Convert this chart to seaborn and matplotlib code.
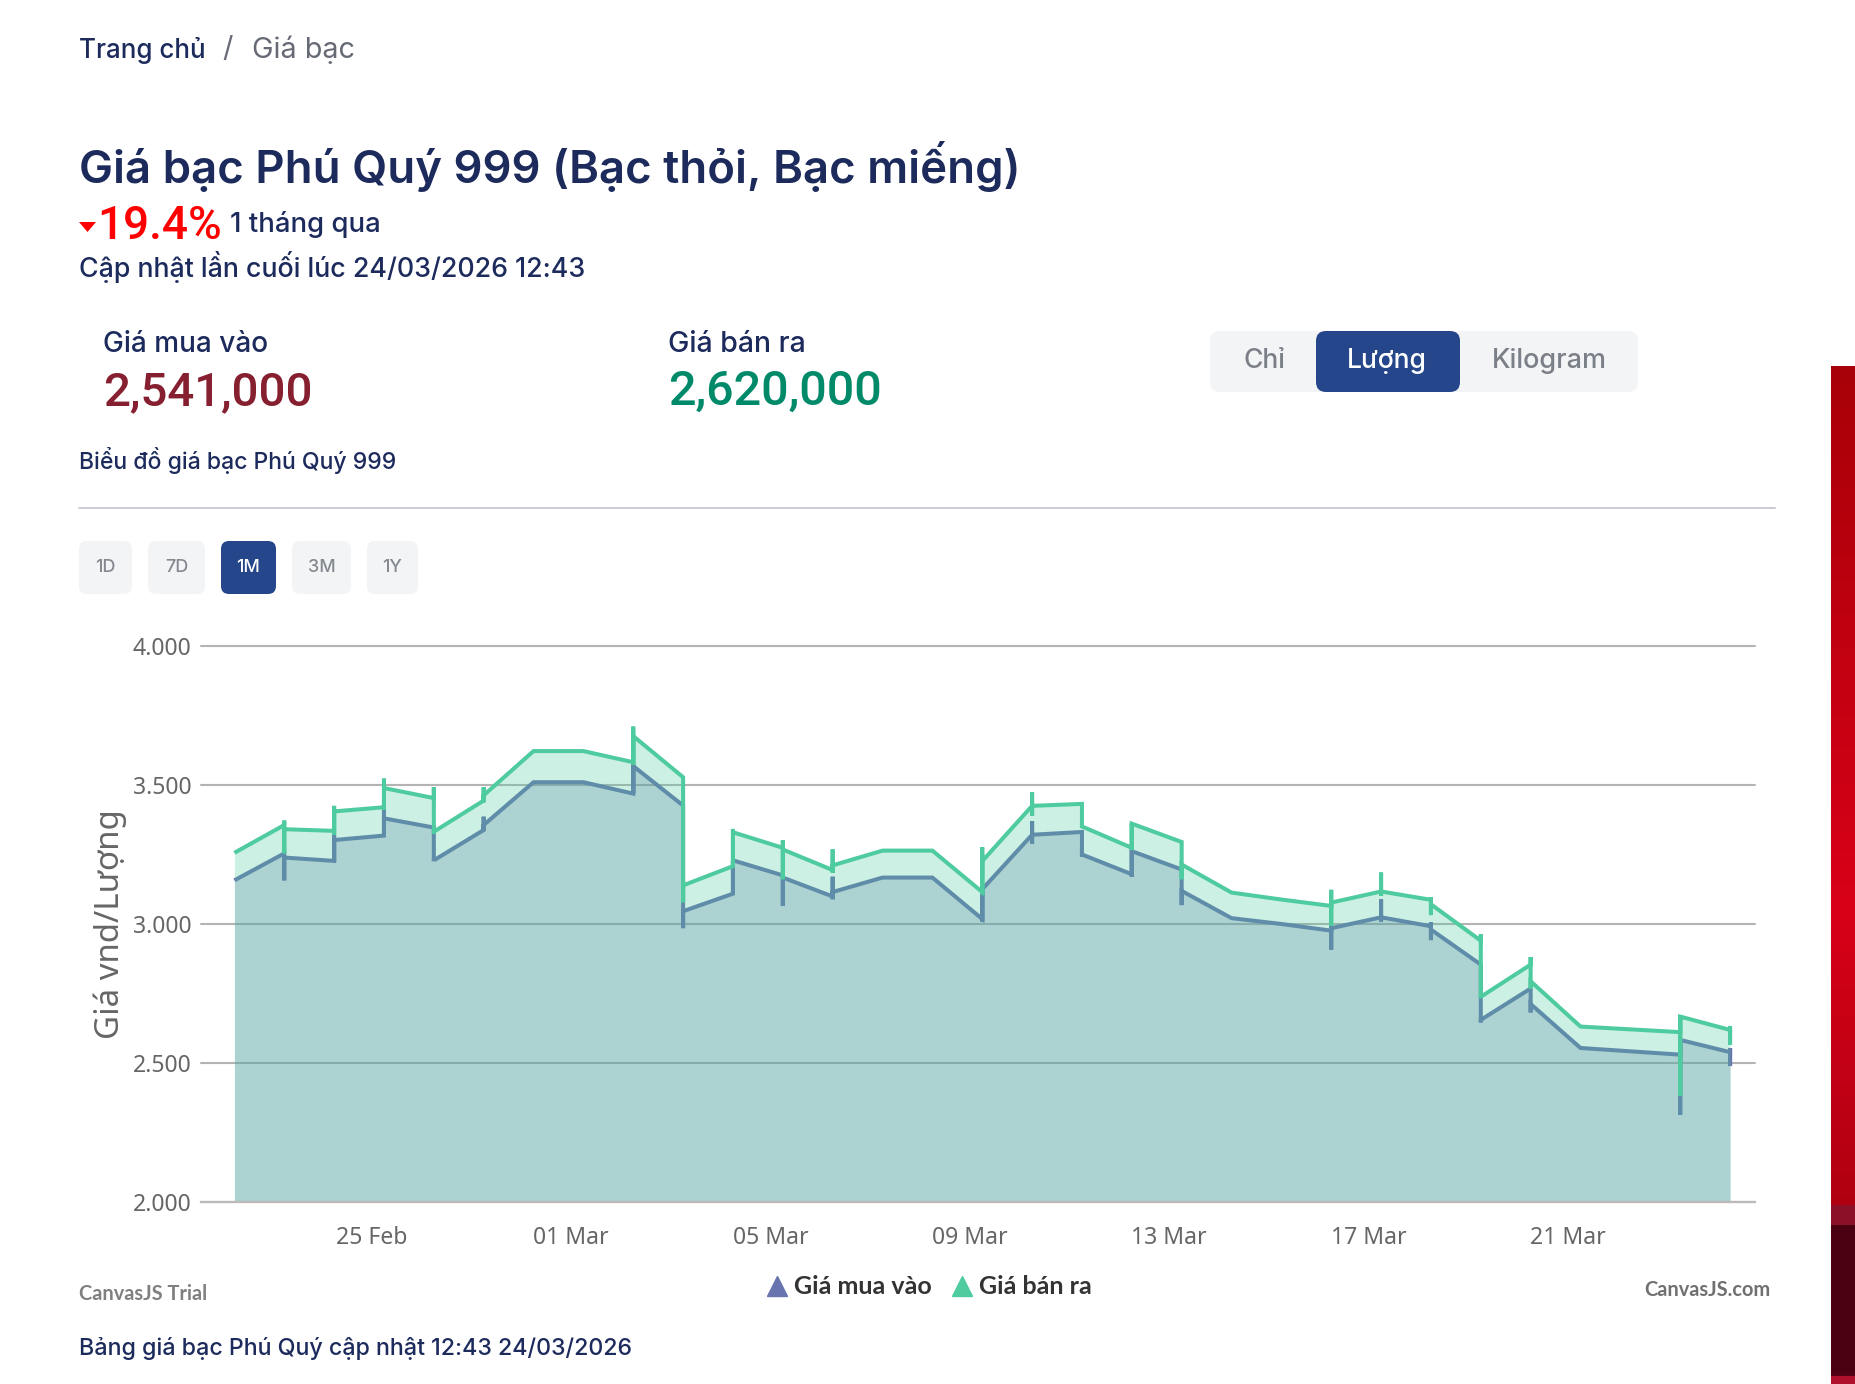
import numpy as np
import pandas as pd
import matplotlib
matplotlib.use("Agg")
import matplotlib.pyplot as plt
import matplotlib.dates as mdates
from matplotlib.colors import LinearSegmentedColormap
from matplotlib.lines import Line2D
from matplotlib.patches import FancyBboxPatch, Polygon
import seaborn as sns

dates = pd.date_range("2026-02-22 06:00", "2026-03-24 06:00", freq="D")
sell_in = [3.256,3.356,3.335,3.420,3.453,3.444,3.622,3.622,3.582,3.528,3.208,3.274,3.194,3.264,3.264,3.115,3.425,3.432,3.274,3.295,3.113,3.088,3.065,3.117,3.087,2.940,2.854,2.631,2.621,2.611,2.619]
sell_out = [3.256,3.341,3.405,3.489,3.332,3.463,3.622,3.622,3.676,3.139,3.330,3.268,3.211,3.264,3.264,3.226,3.425,3.351,3.361,3.214,3.113,3.088,3.077,3.117,3.071,2.738,2.794,2.631,2.621,2.667,2.619]
sell_high = [3.256,3.372,3.425,3.523,3.492,3.492,3.622,3.622,3.710,3.528,3.342,3.301,3.268,3.264,3.264,3.276,3.473,3.432,3.363,3.295,3.113,3.088,3.123,3.185,3.096,2.963,2.881,2.631,2.621,2.670,2.633]
sell_low = [3.256,3.254,3.322,3.411,3.325,3.438,3.622,3.622,3.574,3.078,3.205,3.161,3.185,3.264,3.264,3.107,3.389,3.345,3.268,3.161,3.113,3.088,2.994,3.101,3.032,2.733,2.768,2.631,2.621,2.383,2.565]
buy_in = [3.157,3.254,3.227,3.318,3.347,3.338,3.510,3.510,3.469,3.426,3.109,3.175,3.099,3.167,3.167,3.018,3.321,3.331,3.179,3.196,3.021,3.000,2.976,3.024,2.992,2.854,2.768,2.554,2.542,2.530,2.539]
buy_out = [3.157,3.239,3.302,3.380,3.229,3.356,3.510,3.510,3.568,3.046,3.229,3.167,3.115,3.167,3.167,3.125,3.321,3.250,3.262,3.119,3.021,3.000,2.985,3.024,2.980,2.655,2.712,2.554,2.542,2.583,2.539]
buy_high = [3.157,3.254,3.322,3.411,3.332,3.386,3.510,3.510,3.574,3.426,3.229,3.175,3.170,3.167,3.167,3.125,3.369,3.331,3.268,3.196,3.021,3.000,2.994,3.089,3.006,2.854,2.768,2.554,2.542,2.583,2.554]
buy_low = [3.157,3.157,3.223,3.318,3.226,3.335,3.510,3.510,3.469,2.985,3.109,3.065,3.089,3.167,3.167,3.008,3.289,3.242,3.170,3.068,3.021,3.000,2.908,3.008,2.942,2.646,2.682,2.554,2.542,2.313,2.489]
y_ticks = [2.0, 2.5, 3.0, 3.5, 4.0]
y_tick_labels = ["2.000", "2.500", "3.000", "3.500", "4.000"]
x_tick_dates = pd.date_range("2026-02-25", "2026-03-21", freq="4D")

NAVY = "#1c2a5c"
GREEN = "#4ecb9f"
BLUE = "#6774ae"
W, H = 1856, 1384
UI = ["Inter", "DejaVu Sans"]
NUM = ["Roboto", "DejaVu Sans"]
CHART = ["Noto Sans", "DejaVu Sans"]
CHART_B = ["Lato", "DejaVu Sans"]

sns.set_theme(style="white")
plt.rcParams["font.family"] = UI
fig = plt.figure(figsize=(W / 100, H / 100), dpi=100, facecolor="white")

# page layer in pixel coordinates
page = fig.add_axes([0, 0, 1, 1], zorder=0)
page.set_xlim(0, W)
page.set_ylim(H, 0)
page.axis("off")


def px(size):
    return size * 0.72


def txt(x, y, s, size, color=NAVY, weight="normal", ha="left", family=UI):
    page.text(x, y, s, fontsize=px(size), color=color, fontweight=weight, ha=ha, va="center", family=family)


def box(x0, x1, y0, y1, color, r=10):
    page.add_patch(FancyBboxPatch((x0 + r, y0 + r), x1 - x0 - 2 * r, y1 - y0 - 2 * r,
                                  boxstyle=f"round,pad={r},rounding_size={r}", fc=color, ec="none"))


txt(79, 50, "Trang chủ", 26, NAVY, 500)
txt(222, 49, "/", 29, "#666a75")
txt(252, 50, "Giá bạc", 28.8, "#666a75")
txt(79, 167, "Giá bạc Phú Quý 999 (Bạc thỏi, Bạc miếng)", 45.5, NAVY, 600)
page.add_patch(Polygon([(79, 222), (96, 222), (87.5, 232)], fc="#ff0000", ec="none"))
txt(97, 226, "19.4%", 46, "#ff0000", 500, family=NUM)
txt(230, 224, "1 tháng qua", 27.5, NAVY, 500)
txt(79, 267, "Cập nhật lần cuối lúc 24/03/2026 12:43", 26.8, NAVY, 500)
txt(103, 345, "Giá mua vào", 28, NAVY, 500)
txt(103, 392, "2,541,000", 47.5, "#861f2f", 500, family=NUM)
txt(668, 345, "Giá bán ra", 28.5, NAVY, 500)
txt(668, 392, "2,620,000", 48.5, "#008a6a", 500, family=NUM)
txt(79, 461, "Biểu đồ giá bạc Phú Quý 999", 23, NAVY, 500)
box(1210, 1638, 331, 392, "#f3f4f6")
box(1316, 1460, 331, 392, "#25468a")
txt(1264, 361, "Chỉ", 26.5, "#7b7f88", 500, "center")
txt(1387, 361, "Lượng", 26.5, "white", 500, "center")
txt(1549, 361, "Kilogram", 27, "#7b7f88", 500, "center")
page.plot([79, 1775], [508, 508], color="#c9ccd8", lw=1.4)
for x0, x1, label in [(79, 132, "1D"), (148, 205, "7D"), (221, 276, "1M"), (292, 351, "3M"), (367, 418, "1Y")]:
    active = label == "1M"
    box(x0, x1, 541, 594, "#25468a" if active else "#f3f4f6", 8)
    txt((x0 + x1) / 2, 567, label, 18, "white" if active else "#84888f", 500, "center")
txt(79, 1294, "CanvasJS Trial", 20, "#808080", "bold", family=CHART_B)
txt(1771, 1290, "CanvasJS.com", 20, "#707070", "bold", "right", CHART_B)
txt(79, 1349, "Bảng giá bạc Phú Quý cập nhật 12:43 24/03/2026", 23.2, NAVY, 500)

# decorative strip at the right edge of the screenshot
strip = LinearSegmentedColormap.from_list("strip", [
    (0.0, "#a80008"), (0.53, "#d80018"), (0.824, "#b00010"), (0.826, "#8c1028"), (0.844, "#8c1028"),
    (0.846, "#4a0010"), (0.992, "#4a0010"), (0.994, "#b0102c"), (1.0, "#b0102c")])
page.imshow(np.linspace(0, 1, 1024)[:, None], cmap=strip, aspect="auto", extent=(1831, 1856, 1384, 366), zorder=1)
page.set_xlim(0, W)
page.set_ylim(H, 0)

# chart
ax = fig.add_axes([201 / W, 1 - 1202 / H, (1755 - 201) / W, (1202 - 646) / H], zorder=2)
ax.patch.set_alpha(0)


def fill_path(v_in, v_out):
    d, v = [], []
    for t, a, b in zip(dates, v_in, v_out):
        d += [t, t]
        v += [a, b]
    return np.array(d, dtype="datetime64[ns]"), np.array(v)


def line_frame(v_in, v_high, v_low, v_out):
    rows = []
    for t, a, hi, lo, b in zip(dates, v_in, v_high, v_low, v_out):
        rows += [(t, a), (t, hi), (t, lo), (t, b)]
    return pd.DataFrame(rows, columns=["date", "value"])


for (v_in, v_hi, v_lo, v_out, c) in [(buy_in, buy_high, buy_low, buy_out, BLUE),
                                     (sell_in, sell_high, sell_low, sell_out, GREEN)]:
    xs, ys = fill_path(v_in, v_out)
    ax.fill_between(xs, 2.0, ys, color=c, alpha=0.285, lw=0, zorder=2)
    sns.lineplot(data=line_frame(v_in, v_hi, v_lo, v_out), x="date", y="value", sort=False, estimator=None,
                 color=c, lw=2.9, ax=ax, zorder=2, solid_joinstyle="miter", solid_capstyle="butt")

ax.set_ylim(2, 4)
ax.set_xlim(pd.Timestamp("2026-02-25") - pd.Timedelta(days=3.42), pd.Timestamp("2026-02-25") + pd.Timedelta(days=27.75))
ax.set_yticks(y_ticks, y_tick_labels)
ax.set_xticks(x_tick_dates)
ax.xaxis.set_major_formatter(mdates.DateFormatter("%d %b"))
ax.grid(axis="y", color="#b4b4b4", lw=1.5, zorder=1)
ax.set_axisbelow(True)
ax.grid(axis="x", visible=False)
for gl in ax.get_ygridlines():
    gl.set_clip_on(False)
for name in ["top", "right", "left"]:
    ax.spines[name].set_visible(False)
ax.spines["bottom"].set_color("#bdb9b9")
ax.spines["bottom"].set_linewidth(1.6)
ax.tick_params(axis="y", length=0, pad=7, labelsize=px(23), labelcolor="#666666")
ax.tick_params(axis="x", length=9, width=1, color="#bdb9b9", pad=8.5, labelsize=px(23), labelcolor="#666666")
for lab in ax.get_xticklabels() + ax.get_yticklabels():
    lab.set_family(CHART)
ax.set_xlabel("")
ax.set_ylabel("Giá vnd/Lượng", fontsize=px(33), color="#666666", family=CHART, fontweight=500, labelpad=4)

handles = [Line2D([], [], marker="^", ls="none", color=BLUE, ms=15, label="Giá mua vào"),
           Line2D([], [], marker="^", ls="none", color=GREEN, ms=15, label="Giá bán ra")]
fig.legend(handles=handles, loc="center", bbox_to_anchor=(927 / W, 1 - 1287 / H), ncol=2, frameon=False,
           prop={"family": CHART_B, "size": px(25), "weight": "bold"}, labelcolor="#333333",
           handletextpad=0.1, columnspacing=0.6, handlelength=1.2)

fig.savefig("out.png", dpi=100, facecolor="white")
